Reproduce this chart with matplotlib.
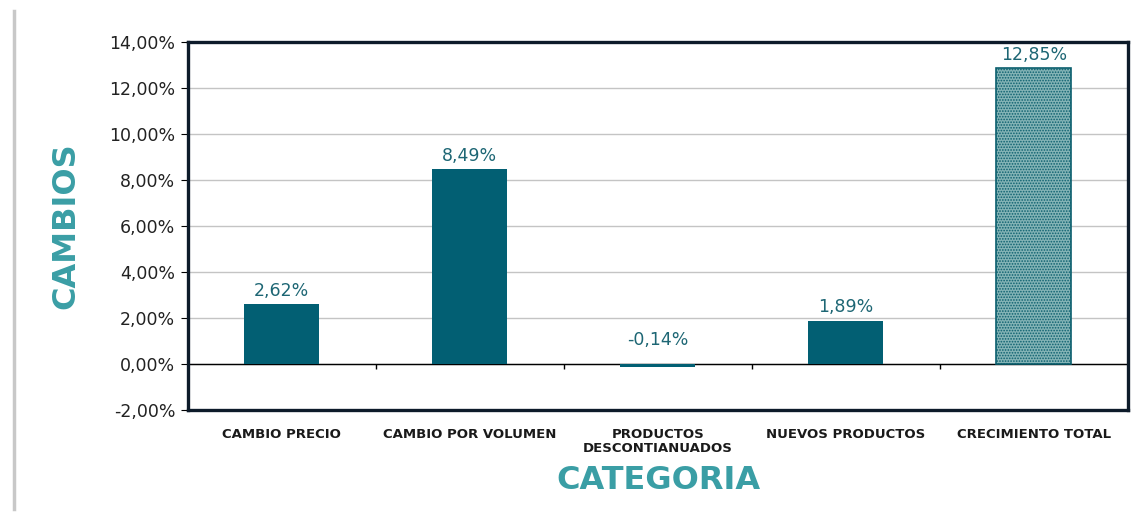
import numpy as np
import matplotlib
matplotlib.use('Agg')
import matplotlib.pyplot as plt
from matplotlib.lines import Line2D

categorias = ['CAMBIO PRECIO', 'CAMBIO POR VOLUMEN', 'PRODUCTOS\nDESCONTIANUADOS',
              'NUEVOS PRODUCTOS', 'CRECIMIENTO TOTAL']
cambios = [2.62, 8.49, -0.14, 1.89, 12.85]
y_ticks = [-2, 0, 2, 4, 6, 8, 10, 12, 14]

bar_color = '#025f73'
label_color = '#1d6674'
title_color = '#3a9ea5'
frame_color = '#0d1b2a'

plt.rcParams['hatch.linewidth'] = 0.8

fig = plt.figure(figsize=(11.45, 5.25), dpi=100)
ax = fig.add_axes([0.164, 0.219, 0.821, 0.701])

x = np.arange(len(categorias))
colors = [bar_color] * (len(cambios) - 1) + ['#84b4b6']
bars = ax.bar(x, cambios, width=0.4, color=colors, zorder=3)
# total growth bar is dotted
bars[-1].set_hatch('......')
bars[-1].set_edgecolor('#0b5f6e')
bars[-1].set_linewidth(1.2)

for bar, v in zip(bars, cambios):
    y = v if v > 0 else 0
    off = 3 if v > 0 else 11
    ax.annotate(f'{v:.2f}%'.replace('.', ','),
                xy=(bar.get_x() + bar.get_width() / 2, y),
                xytext=(0, off), textcoords='offset points',
                ha='center', va='bottom', fontsize=12.5, color=label_color, zorder=4)

ax.set_xlim(-0.5, len(categorias) - 0.5)
ax.set_ylim(-2, 14)
ax.set_yticks(y_ticks)
ax.set_yticklabels([f'{t:.2f}%'.replace('.', ',') for t in y_ticks], fontsize=12.5, color='#222222')
ax.yaxis.grid(True, color='#c4c4c4', lw=1, zorder=0)

# zero line with separators between categories
ax.axhline(0, color='black', lw=1, zorder=2)
ax.vlines(x[:-1] + 0.5, -0.2, 0, color='black', lw=1, zorder=2)

ax.set_xticks(x)
ax.set_xticklabels(categorias, fontsize=9.5, fontweight='bold', color='#1a1a1a',
                   linespacing=1.05, va='top')
ax.tick_params(axis='x', length=0, pad=13)
ax.tick_params(axis='y', length=5, color='black', pad=4)

for s in ax.spines.values():
    s.set_color(frame_color)
    s.set_linewidth(2.4)

ax.set_ylabel('CAMBIOS', fontsize=23, fontweight='bold', color=title_color, labelpad=20)
fig.text(0.575, 0.085, 'CATEGORIA', fontsize=23, fontweight='bold', color=title_color,
         ha='center', va='center')

# thin grey rule at the left edge
fig.add_artist(Line2D([0.012, 0.012], [0.03, 0.98], color='#c8c8c8', lw=2.5))

fig.savefig('out.png', dpi=100)
